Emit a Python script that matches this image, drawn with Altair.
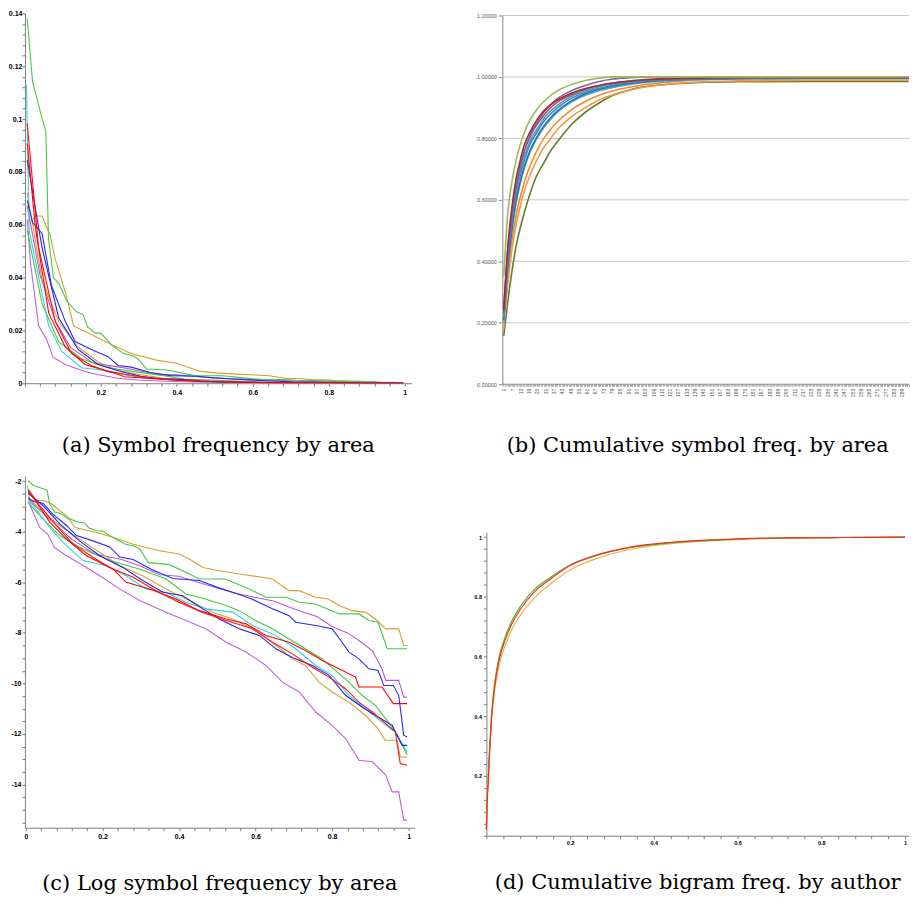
import altair as alt
import pandas as pd

# ---------------- (c) log symbol frequency by area (natural log) ----------------
c_green1_x = [0.006, 0.02, 0.045, 0.055, 0.062, 0.075, 0.09, 0.11, 0.136, 0.153, 0.165, 0.185, 0.2, 0.232, 0.26, 0.284, 0.297, 0.32, 0.375, 0.427, 0.453, 0.52, 0.575, 0.627, 0.68, 0.714, 0.757, 0.818, 0.87, 0.896, 0.92, 0.944, 0.996]
c_green1_y = [-1.98, -2.17, -2.3, -2.35, -2.9, -3.22, -3.28, -3.47, -3.61, -3.65, -3.85, -3.96, -3.97, -4.27, -4.49, -4.57, -4.68, -5.22, -5.3, -5.67, -5.87, -5.87, -6.2, -6.59, -6.59, -6.79, -6.86, -7.25, -7.25, -7.51, -7.58, -8.63, -8.63]

c_orange1_x = [0.006, 0.03, 0.045, 0.066, 0.08, 0.109, 0.128, 0.184, 0.227, 0.28, 0.349, 0.4, 0.427, 0.462, 0.505, 0.557, 0.618, 0.644, 0.6875, 0.713, 0.757, 0.79, 0.818, 0.852, 0.887, 0.913, 0.94, 0.974, 0.987, 0.996]
c_orange1_y = [-2.8, -2.76, -2.76, -2.88, -3.06, -3.41, -3.83, -4.03, -4.22, -4.49, -4.75, -4.88, -5.08, -5.41, -5.54, -5.67, -5.8, -5.87, -6.33, -6.33, -6.59, -6.66, -6.92, -7.12, -7.18, -7.45, -7.84, -7.84, -8.5, -8.5]

c_blue1_x = [0.006, 0.02, 0.045, 0.07, 0.106, 0.132, 0.175, 0.219, 0.245, 0.28, 0.33, 0.384, 0.453, 0.5, 0.54, 0.59, 0.644, 0.6875, 0.705, 0.757, 0.8, 0.826, 0.844, 0.87, 0.896, 0.92, 0.935, 0.96, 0.974, 0.987, 0.996]
c_blue1_y = [-2.67, -2.8, -2.87, -3.3, -3.75, -4.15, -4.36, -4.6, -5.0, -5.1, -5.5, -5.85, -5.93, -6.2, -6.39, -6.66, -7.05, -7.32, -7.58, -7.71, -7.84, -8.37, -8.76, -9.03, -9.42, -9.49, -10.08, -10.08, -10.47, -12.05, -12.12]

c_purple1_x = [0.006, 0.04, 0.08, 0.12, 0.18, 0.25, 0.297, 0.35, 0.4, 0.46, 0.54, 0.6, 0.65, 0.69, 0.73, 0.76, 0.8, 0.84, 0.87, 0.905, 0.93, 0.94, 0.974, 0.987, 0.996]
c_purple1_y = [-2.7, -3.2, -3.75, -4.3, -4.88, -5.1, -5.34, -5.7, -5.76, -6.05, -6.4, -6.6, -6.75, -7.0, -7.2, -7.35, -7.75, -8.0, -8.3, -8.7, -9.42, -9.88, -9.88, -10.54, -10.54]

c_purple2_x = [0.006, 0.015, 0.036, 0.057, 0.074, 0.106, 0.158, 0.193, 0.245, 0.297, 0.366, 0.418, 0.47, 0.523, 0.575, 0.627, 0.67, 0.714, 0.757, 0.8, 0.835, 0.87, 0.905, 0.94, 0.957, 0.974, 0.987, 0.996]
c_purple2_y = [-2.78, -3.1, -3.83, -4.1, -4.62, -4.95, -5.41, -5.74, -6.26, -6.72, -7.18, -7.51, -7.84, -8.37, -8.76, -9.29, -9.95, -10.34, -11.13, -11.66, -12.18, -13.04, -13.1, -13.63, -14.29, -14.29, -15.41, -15.41]

c_red1_x = [0.006, 0.028, 0.0625, 0.106, 0.158, 0.227, 0.262, 0.323, 0.392, 0.453, 0.523, 0.575, 0.627, 0.6875, 0.73, 0.783, 0.818, 0.861, 0.87, 0.93, 0.96, 0.996]
c_red1_y = [-2.4, -2.84, -3.63, -4.29, -4.95, -5.47, -6.0, -6.26, -6.66, -7.12, -7.45, -7.64, -8.1, -8.37, -8.7, -9.16, -9.42, -9.75, -10.14, -10.14, -10.8, -10.8]

c_red2_x = [0.006, 0.036, 0.08, 0.123, 0.175, 0.219, 0.28, 0.34, 0.4, 0.46, 0.523, 0.592, 0.644, 0.696, 0.748, 0.792, 0.835, 0.87, 0.905, 0.94, 0.965, 0.978, 0.996]
c_red2_y = [-2.32, -2.97, -3.76, -4.49, -5.01, -5.41, -5.8, -6.33, -6.79, -7.18, -7.51, -7.84, -8.37, -8.83, -9.36, -9.75, -10.21, -10.74, -11.13, -11.59, -11.92, -13.17, -13.24]

c_blue2_x = [0.006, 0.045, 0.089, 0.14, 0.193, 0.253, 0.305, 0.358, 0.41, 0.462, 0.505, 0.557, 0.61, 0.653, 0.696, 0.748, 0.792, 0.835, 0.878, 0.92, 0.957, 0.983, 0.996]
c_blue2_y = [-2.47, -2.97, -3.7, -4.36, -4.95, -5.41, -5.93, -6.39, -6.53, -7.05, -7.45, -7.84, -8.1, -8.63, -8.97, -9.29, -9.68, -10.47, -10.93, -11.33, -11.66, -12.45, -12.45]

c_cyan_x = [0.004, 0.011, 0.019, 0.0625, 0.097, 0.149, 0.21, 0.262, 0.314, 0.366, 0.418, 0.47, 0.54, 0.592, 0.653, 0.705, 0.757, 0.8, 0.844, 0.887, 0.93, 0.965, 0.996]
c_cyan_y = [-2.18, -2.85, -2.95, -3.83, -4.42, -5.14, -5.34, -5.74, -6.26, -6.39, -6.79, -7.05, -7.18, -7.71, -8.1, -8.63, -9.29, -9.68, -10.47, -11.0, -11.53, -11.92, -12.71]

c_green2_x = [0.006, 0.045, 0.089, 0.149, 0.219, 0.297, 0.366, 0.418, 0.453, 0.523, 0.557, 0.6, 0.644, 0.6875, 0.73, 0.774, 0.809, 0.844, 0.878, 0.913, 0.94, 0.965, 0.983, 0.996]
c_green2_y = [-2.85, -3.5, -4.16, -4.68, -5.14, -5.47, -5.87, -6.46, -6.59, -6.92, -7.12, -7.51, -7.84, -8.24, -8.63, -9.03, -9.49, -9.95, -10.47, -10.87, -11.39, -11.92, -12.45, -12.84]

c_orange2_x = [0.006, 0.045, 0.089, 0.14, 0.193, 0.245, 0.305, 0.366, 0.436, 0.488, 0.54, 0.592, 0.644, 0.696, 0.73, 0.766, 0.8, 0.844, 0.887, 0.92, 0.938, 0.97, 0.978, 0.996]
c_orange2_y = [-2.63, -3.24, -3.76, -4.29, -4.82, -5.34, -5.74, -6.26, -6.79, -7.18, -7.45, -7.84, -8.37, -9.03, -9.29, -9.95, -10.34, -10.74, -11.26, -11.79, -12.25, -12.25, -12.91, -12.91]

maple_ids = ["purple2", "purple1", "orange2", "orange1", "green2", "green1", "cyan", "blue2", "blue1", "red2", "red1"]
maple_colors = ["#C25FE0", "#B95AD8", "#D9A133", "#D89E2E", "#3FCB3F", "#44C944", "#2FD3DF", "#2020EE", "#2A2AF0", "#FF1010", "#FF0000"]
maple_xs = [c_purple2_x, c_purple1_x, c_orange2_x, c_orange1_x, c_green2_x, c_green1_x, c_cyan_x, c_blue2_x, c_blue1_x, c_red2_x, c_red1_x]
maple_ys = [c_purple2_y, c_purple1_y, c_orange2_y, c_orange1_y, c_green2_y, c_green1_y, c_cyan_y, c_blue2_y, c_blue1_y, c_red2_y, c_red1_y]

# ---------------- (b) cumulative symbol frequency by area ----------------
b_cats = [1, 4, 7, 10, 13, 16, 20, 25, 30, 35, 40, 50, 60, 70, 80, 90, 100, 120, 140, 170, 220, 294]
b_lightgreen = [0.35, 0.56, 0.66, 0.73, 0.78, 0.82, 0.86, 0.895, 0.92, 0.94, 0.955, 0.975, 0.988, 0.996, 1.0, 1.0, 1.0, 1.0, 1.0, 1.0, 1.0, 1.0]
b_darkgreen = [0.157, 0.27, 0.37, 0.45, 0.51, 0.56, 0.62, 0.68, 0.72, 0.76, 0.79, 0.845, 0.885, 0.915, 0.94, 0.955, 0.966, 0.976, 0.981, 0.984, 0.985, 0.985]
b_orange1 = [0.18, 0.33, 0.44, 0.52, 0.58, 0.63, 0.68, 0.73, 0.77, 0.80, 0.83, 0.87, 0.90, 0.925, 0.942, 0.955, 0.965, 0.976, 0.983, 0.987, 0.989, 0.989]
b_orange2 = [0.2, 0.36, 0.47, 0.55, 0.61, 0.66, 0.71, 0.76, 0.8, 0.83, 0.855, 0.893, 0.92, 0.94, 0.955, 0.965, 0.973, 0.983, 0.99, 0.994, 0.996, 0.997]
b_darkred = [0.24, 0.45, 0.58, 0.67, 0.73, 0.78, 0.82, 0.86, 0.89, 0.91, 0.925, 0.947, 0.962, 0.972, 0.98, 0.985, 0.989, 0.994, 0.996, 0.998, 0.998, 0.998]
b_red = [0.25, 0.44, 0.56, 0.645, 0.71, 0.76, 0.805, 0.845, 0.875, 0.9, 0.918, 0.942, 0.96, 0.972, 0.98, 0.986, 0.99, 0.994, 0.996, 0.997, 0.997, 0.997]
b_purple = [0.23, 0.42, 0.55, 0.64, 0.71, 0.76, 0.81, 0.85, 0.885, 0.91, 0.93, 0.955, 0.972, 0.985, 0.993, 0.997, 0.999, 1.0, 1.0, 1.0, 1.0, 1.0]
b_blue1 = [0.22, 0.41, 0.53, 0.62, 0.68, 0.73, 0.78, 0.82, 0.855, 0.88, 0.9, 0.93, 0.95, 0.963, 0.973, 0.98, 0.985, 0.991, 0.994, 0.996, 0.997, 0.997]
b_blue2 = [0.21, 0.39, 0.51, 0.6, 0.66, 0.71, 0.76, 0.805, 0.84, 0.868, 0.89, 0.922, 0.945, 0.96, 0.97, 0.978, 0.983, 0.99, 0.993, 0.995, 0.996, 0.996]
b_cyan1 = [0.22, 0.42, 0.54, 0.63, 0.69, 0.74, 0.79, 0.83, 0.865, 0.89, 0.908, 0.937, 0.955, 0.968, 0.977, 0.983, 0.988, 0.993, 0.995, 0.997, 0.998, 0.998]
b_cyan2 = [0.2, 0.38, 0.5, 0.59, 0.655, 0.705, 0.755, 0.8, 0.835, 0.862, 0.885, 0.918, 0.94, 0.955, 0.966, 0.974, 0.98, 0.987, 0.991, 0.993, 0.994, 0.994]
excel_ids = ["darkgreen", "orange1", "orange2", "cyan2", "blue2", "blue1", "cyan1", "red", "purple", "darkred", "lightgreen"]
excel_colors = ["#5F7F2E", "#F79646", "#F28A30", "#4BACC6", "#2C6FB0", "#4F81BD", "#31A5C5", "#C0504D", "#8064A2", "#9B2D3A", "#9BBB59"]
excel_vals = [b_darkgreen, b_orange1, b_orange2, b_cyan2, b_blue2, b_blue1, b_cyan1, b_red, b_purple, b_darkred, b_lightgreen]
b_grid_values = [0.2, 0.4, 0.6, 0.8, 1.0, 1.2]
b_last_category = 294.2

# ---------------- (d) cumulative bigram frequency by author ----------------
d_x = [0.0, 0.001, 0.004, 0.008, 0.012, 0.02, 0.031, 0.043, 0.059, 0.082, 0.114, 0.153, 0.2, 0.262, 0.34, 0.442, 0.56, 0.717, 0.85, 1.0]
d_red = [0.02, 0.08, 0.168, 0.29, 0.39, 0.503, 0.592, 0.648, 0.704, 0.76, 0.816, 0.86, 0.905, 0.939, 0.966, 0.983, 0.992, 0.998, 0.999, 1.0]
d_green = [0.02, 0.085, 0.175, 0.3, 0.4, 0.513, 0.602, 0.658, 0.714, 0.77, 0.824, 0.866, 0.907, 0.939, 0.964, 0.981, 0.991, 0.998, 0.999, 1.0]
d_orange = [0.02, 0.09, 0.19, 0.29, 0.38, 0.49, 0.575, 0.63, 0.685, 0.74, 0.795, 0.843, 0.89, 0.928, 0.958, 0.978, 0.99, 0.997, 0.999, 1.0]
d_ids = ["orange", "green", "red"]
d_colors = ["#E8B54A", "#3CC03C", "#FF2A1A"]
d_vals = [d_orange, d_green, d_red]

captions = ["(a) Symbol frequency by area", "(b) Cumulative symbol freq. by area",
            "(c) Log symbol frequency by area", "(d) Cumulative bigram freq. by author"]

# ---------------- build tables ----------------
rows = []
for sid, xs, ys in zip(maple_ids, maple_xs, maple_ys):
    for i, (x, y) in enumerate(zip(xs, ys)):
        rows.append({"s": sid, "i": i, "x": x, "y": y})
df_maple = pd.DataFrame(rows)

rows = []
for sid, vals in zip(excel_ids, excel_vals):
    for i, (c, v) in enumerate(zip(b_cats, vals)):
        rows.append({"s": sid, "i": i, "x": c, "y": v})
df_b = pd.DataFrame(rows)
df_grid = pd.DataFrame({"y": b_grid_values, "x": 0.0, "xend": b_last_category})
df_base = pd.DataFrame({"y": [0.0], "x": [0.0], "xend": [b_last_category]})

rows = []
for sid, vals in zip(d_ids, d_vals):
    for i, (x, v) in enumerate(zip(d_x, vals)):
        rows.append({"s": sid, "i": i, "x": x, "y": v})
df_d = pd.DataFrame(rows)

LBL = dict(labelFont="Liberation Sans", labelFontWeight="bold", labelColor="black",
           domainColor="#808080", tickColor="#808080", grid=False, title=None,
           labelOverlap=False, labelFlush=False, labelBound=False)


def cap(text, offset):
    return alt.TitleParams(text=text, orient="bottom", font="DejaVu Serif", fontSize=21,
                           fontWeight="normal", color="black", anchor="middle", offset=offset)


# (a)
a_yvals = [round(0.004 * k, 3) for k in range(0, 36)]
a_xvals = [round(0.04 * k, 2) for k in range(0, 26)]
chart_a = alt.Chart(df_maple, title=cap(captions[0], 40)).transform_calculate(
    v="exp(datum.y)"
).mark_line(strokeWidth=1.1, clip=True).encode(
    x=alt.X("x:Q", scale=alt.Scale(domain=[0, 1.0184], nice=False, zero=False),
            axis=alt.Axis(values=a_xvals, format="~g", tickSize=3, labelFontSize=7, labelPadding=2,
                          labelExpr="(datum.value > 0 && abs(datum.value*5 - round(datum.value*5)) < 0.01) ? datum.label : ''", **LBL)),
    y=alt.Y("v:Q", scale=alt.Scale(domain=[0, 0.14], nice=False),
            axis=alt.Axis(values=a_yvals, format=".2~f", tickSize=3, labelFontSize=7, labelPadding=0,
                          labelExpr="abs(datum.value*50 - round(datum.value*50)) < 0.01 ? datum.label : ''", **LBL)),
    color=alt.Color("s:N", scale=alt.Scale(domain=maple_ids, range=maple_colors), legend=None),
    order=alt.Order("i:Q"),
).properties(width=388, height=371)

# (c)
c_yvals = [-15.5 + 0.5 * k for k in range(0, 28)]
c_xvals = [round(0.04 * k, 2) for k in range(0, 26)]
chart_c = alt.Chart(df_maple, title=cap(captions[2], 33)).mark_line(strokeWidth=1.1, clip=True).encode(
    x=alt.X("x:Q", scale=alt.Scale(domain=[-0.0026, 1.0156], nice=False, zero=False),
            axis=alt.Axis(values=c_xvals, tickSize=3, labelFontSize=7, labelPadding=2,
                          labelExpr="abs(datum.value*5 - round(datum.value*5)) < 0.01 ? toString(datum.value) : ''", **LBL)),
    y=alt.Y("y:Q", scale=alt.Scale(domain=[-15.71, -1.79], nice=False, zero=False),
            axis=alt.Axis(values=c_yvals, tickSize=3, labelFontSize=7, labelPadding=1,
                          labelExpr="(datum.value % 2 == 0) ? toString(datum.value) : ''", **LBL)),
    color=alt.Color("s:N", scale=alt.Scale(domain=maple_ids, range=maple_colors), legend=None),
    order=alt.Order("i:Q"),
).properties(width=391, height=353)

# (b) excel-style chart; its category axis starts 16px right of the column edge
b_xvals = list(range(1, 295))
bx = alt.X("x:Q", scale=alt.Scale(domain=[-11.54, b_last_category], nice=False, zero=False),
           axis=alt.Axis(values=b_xvals, tickSize=2, labelAngle=270, labelFontSize=5, labelPadding=2,
                         labelFont="Liberation Sans", labelColor="#555555", domain=False,
                         tickColor="#A0A0A0", grid=False, title=None, labelOverlap=False,
                         labelFlush=False, labelBound=False,
                         labelExpr="((datum.value - 1) % 6 == 0) ? datum.label : ''"))
by = alt.Y("y:Q", scale=alt.Scale(domain=[0, 1.2], range=[372, 2], nice=False),
           axis=alt.Axis(values=[0, 0.2, 0.4, 0.6, 0.8, 1.0, 1.2], format=".5f", tickSize=4,
                         labelFontSize=5.5, labelFont="Liberation Sans", labelColor="#555555",
                         labelPadding=2, domainColor="#868686", tickColor="#868686",
                         labelOverlap=False, grid=False, title=None, offset=-16))
b_grid = alt.Chart(df_grid).mark_rule(color="#C6C6C6", strokeWidth=1).encode(
    y=by, x=bx, x2="xend:Q")
b_base = alt.Chart(df_base).mark_rule(color="#868686", strokeWidth=1).encode(
    y=by, x=bx, x2="xend:Q")
b_lines = alt.Chart(df_b).mark_line(strokeWidth=1.6, interpolate="monotone", clip=True).encode(
    x=bx, y=by,
    color=alt.Color("s:N", scale=alt.Scale(domain=excel_ids, range=excel_colors), legend=None),
    order=alt.Order("i:Q"),
)
chart_b = alt.layer(b_grid, b_base, b_lines, title=cap(captions[1], 39)).properties(width=424, height=372)

# (d)
d_xvals = [round(0.04 * k, 2) for k in range(0, 26)]
d_yvals = [round(0.04 * k, 2) for k in range(0, 26)]
chart_d = alt.Chart(df_d, title=cap(captions[3], 26)).mark_line(strokeWidth=1.2, interpolate="monotone").encode(
    x=alt.X("x:Q", scale=alt.Scale(domain=[0, 1.0095], nice=False, zero=False),
            axis=alt.Axis(values=d_xvals, format="~g", tickSize=3, labelFontSize=5.5, labelPadding=2,
                          labelExpr="(datum.value > 0 && abs(datum.value*5 - round(datum.value*5)) < 0.01) ? datum.label : ''", **LBL)),
    y=alt.Y("y:Q", scale=alt.Scale(domain=[0, 1.0167], range=[360.5, 56.5], nice=False),
            axis=alt.Axis(values=d_yvals, format="~g", tickSize=3, labelFontSize=5.5, labelPadding=2,
                          labelExpr="(datum.value > 0 && abs(datum.value*5 - round(datum.value*5)) < 0.01) ? datum.label : ''", **LBL)),
    color=alt.Color("s:N", scale=alt.Scale(domain=d_ids, range=d_colors), legend=None),
    order=alt.Order("i:Q"),
).properties(width=424, height=361)

chart = alt.concat(
    chart_a, chart_b, chart_c, chart_d, columns=2,
    spacing={"row": 92, "column": 72}, bounds="flush", align="each",
).resolve_scale(color="independent").properties(
    padding={"left": 0, "top": 0, "right": 0, "bottom": 0}, background="white"
).configure_view(stroke=None)

chart.save("out.html", embed_options={"renderer": "svg", "actions": False})
